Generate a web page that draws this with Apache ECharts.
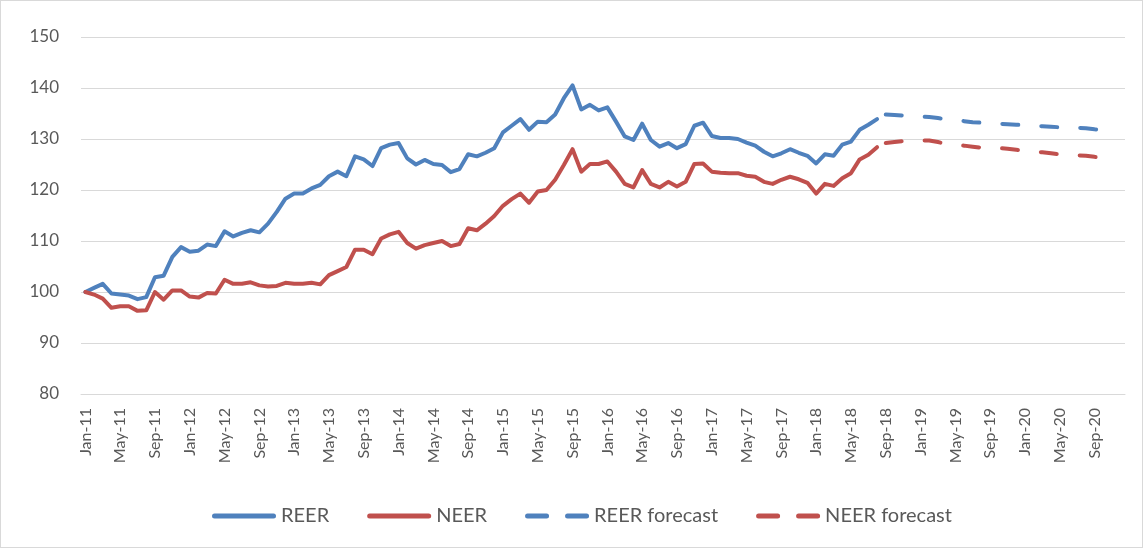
<!DOCTYPE html>
<html>
<head>
<meta charset="utf-8">
<script src="https://cdn.jsdelivr.net/npm/echarts@6/dist/echarts.min.js"></script>
<style>
html,body{margin:0;padding:0;background:#fff;}
#c{width:1141px;height:546px;border:1px solid #d9d9d9;}
</style>
</head>
<body>
<div id="c"></div>
<script>
var monthNames = ['Jan','Feb','Mar','Apr','May','Jun','Jul','Aug','Sep','Oct','Nov','Dec'];
var years = ['11','12','13','14','15','16','17','18','19','20'];

var reer = [100,100.8,101.6,99.7,99.5,99.3,98.6,99.0,102.9,103.2,106.9,108.8,
  107.9,108.1,109.3,109.0,111.9,110.9,111.6,112.1,111.7,113.4,115.7,118.3,
  119.3,119.3,120.3,121.0,122.7,123.6,122.7,126.6,126.0,124.7,128.2,128.9,
  129.2,126.2,125.0,125.9,125.1,124.9,123.5,124.1,127.0,126.6,127.3,128.2,
  131.3,132.6,133.9,131.8,133.4,133.3,134.8,138.0,140.5,135.8,136.7,135.6,
  136.2,133.4,130.5,129.8,133.0,129.8,128.5,129.2,128.2,129.0,132.6,133.2,
  130.6,130.2,130.2,130.0,129.3,128.7,127.5,126.6,127.2,128.0,127.3,126.7,
  125.2,127.0,126.7,128.9,129.5,131.8,132.8,133.9];

var neer = [100,99.5,98.7,96.9,97.2,97.2,96.3,96.4,100.0,98.5,100.3,100.3,
  99.1,98.9,99.8,99.7,102.4,101.6,101.6,101.9,101.3,101.1,101.2,101.8,
  101.6,101.6,101.8,101.5,103.3,104.1,104.9,108.3,108.3,107.4,110.5,111.3,
  111.8,109.6,108.5,109.2,109.6,110.0,109.0,109.4,112.5,112.1,113.4,114.9,
  116.9,118.2,119.3,117.5,119.7,120.0,122.0,124.9,128.0,123.6,125.1,125.1,
  125.6,123.6,121.2,120.5,123.9,121.2,120.5,121.6,120.7,121.6,125.1,125.2,
  123.6,123.4,123.3,123.3,122.8,122.6,121.6,121.2,122.0,122.6,122.1,121.4,
  119.3,121.2,120.8,122.3,123.3,126.0,126.9,128.4];

// forecasts: Sep-18 .. Nov-20
var reerForecast = [134.8,134.7,134.6,134.5,134.4,134.3,134.1,133.9,133.7,133.5,
  133.3,133.2,133.1,133.0,132.9,132.8,132.7,132.6,132.5,132.4,132.3,132.3,
  132.2,132.1,131.9,131.8,131.7];
var neerForecast = [129.2,129.4,129.6,129.7,129.7,129.7,129.4,129.0,128.8,128.7,
  128.5,128.3,128.2,128.2,128.1,127.9,127.7,127.5,127.4,127.2,127.0,126.9,
  126.8,126.7,126.5,126.2,126.0];

var yTicks = {min: 80, max: 150, interval: 10};

var categories = [];
years.forEach(function(y){ monthNames.forEach(function(m){ categories.push(m + '-' + y); }); });

function pad(arr, before, total){
  var out = [];
  for (var i = 0; i < before; i++) out.push(null);
  out = out.concat(arr);
  while (out.length < total) out.push(null);
  return out;
}
var N = categories.length;
var fStart = reer.length;

var BLUE = '#4F81BD', RED = '#C0504D';
var FONT = 'Lato';
var SOLID_ICON = 'path://M2.5,0H61.5A2.5,2.5 0 0 1 61.5,5H2.5A2.5,2.5 0 0 1 2.5,0Z';
var DASH_ICON = 'path://M2.5,0H21.5A2.5,2.5 0 0 1 21.5,5H2.5A2.5,2.5 0 0 1 2.5,0Z M42.5,0H61.5A2.5,2.5 0 0 1 61.5,5H42.5A2.5,2.5 0 0 1 42.5,0Z';

var chart = echarts.init(document.getElementById('c'));
chart.setOption({
  animation: false,
  textStyle: {fontFamily: FONT},
  grid: {left: 80, right: 17, top: 36, bottom: 153, containLabel: false},
  legend: {
    top: 500,
    left: 206,
    itemWidth: 64,
    itemHeight: 5,
    itemGap: 38,
    textStyle: {fontFamily: FONT, fontSize: 20, color: '#595959'},
    data: [
      {name: 'REER', icon: SOLID_ICON, itemStyle: {color: BLUE}},
      {name: 'NEER', icon: SOLID_ICON, itemStyle: {color: RED}},
      {name: 'REER forecast', icon: DASH_ICON, itemStyle: {color: BLUE}},
      {name: 'NEER forecast', icon: DASH_ICON, itemStyle: {color: RED}}
    ]
  },
  xAxis: {
    type: 'category',
    data: categories,
    boundaryGap: true,
    axisLine: {lineStyle: {color: '#d9d9d9', width: 1}},
    axisTick: {show: false},
    axisLabel: {interval: 3, rotate: 90, color: '#595959', fontSize: 16, fontFamily: FONT, margin: 14}
  },
  yAxis: {
    type: 'value',
    min: yTicks.min, max: yTicks.max, interval: yTicks.interval,
    axisLine: {show: false},
    axisTick: {show: false},
    splitLine: {lineStyle: {color: '#d9d9d9', width: 1}},
    axisLabel: {color: '#595959', fontSize: 17, fontFamily: FONT, margin: 22}
  },
  series: [
    {name: 'REER', type: 'line', data: pad(reer, 0, N), symbol: 'none',
     lineStyle: {color: BLUE, width: 4, cap: 'round', join: 'round'}, itemStyle: {color: BLUE}},
    {name: 'NEER', type: 'line', data: pad(neer, 0, N), symbol: 'none',
     lineStyle: {color: RED, width: 4, cap: 'round', join: 'round'}, itemStyle: {color: RED}},
    {name: 'REER forecast', type: 'line', data: pad(reerForecast, fStart, N), symbol: 'none',
     lineStyle: {color: BLUE, width: 4, type: [16, 23], cap: 'round', join: 'round'}, itemStyle: {color: BLUE}},
    {name: 'NEER forecast', type: 'line', data: pad(neerForecast, fStart, N), symbol: 'none',
     lineStyle: {color: RED, width: 4, type: [16, 23], cap: 'round', join: 'round'}, itemStyle: {color: RED}}
  ]
});
</script>
</body>
</html>
